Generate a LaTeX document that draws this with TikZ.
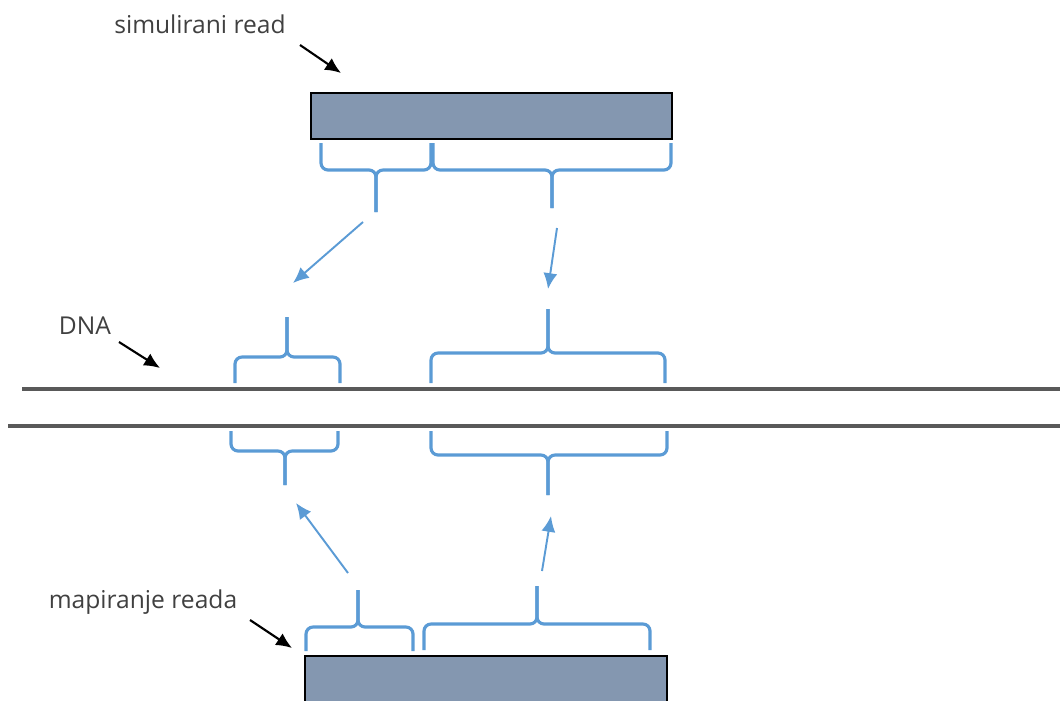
\documentclass[tikz,border=0pt]{standalone}
\usepackage{fontspec}
\setmainfont{Open Sans}
\usetikzlibrary{arrows.meta}
\definecolor{readfill}{HTML}{8497B0}
\definecolor{bracec}{HTML}{5B9BD5}
\definecolor{dnac}{HTML}{595959}
\definecolor{txt}{HTML}{404040}
\newcommand\mybrace[6]{% x1 x2 xm ya yb yc
  \draw[brc] (#1,#4) |- (#3,#5) -- (#3,#6);
  \draw[brc] (#2,#4) |- (#3,#5) -- (#3,#6);}
\tikzset{
  brc/.style={draw=bracec, line width=1.8pt, rounded corners=4pt},
  bluearrow/.style={draw=bracec, line width=1.1pt, -{Latex[length=9pt,width=8pt]}},
  blackarrow/.style={draw=black, line width=1.2pt, -{Latex[length=9pt,width=8pt]}},
  readbox/.style={draw=black, fill=readfill, line width=1pt},
  lbl/.style={font=\fontsize{14}{16}\selectfont, text=txt, inner sep=0pt},
  dnaline/.style={draw=dnac, line width=2.8pt}
}
\begin{document}
\begin{tikzpicture}[x=0.02cm,y=-0.02cm]
\useasboundingbox (0,0) rectangle (1060,700);
% reads
\path[readbox] (311,93) rectangle (672,139);
\node (topread) at (491,116) {};
\path[readbox] (305,656) rectangle (667,710);
\node (botread) at (486,680) {};
% labels
\node[lbl] (simlbl) at (200,24) {simulirani read};
\node[lbl] (dnalbl) at (85,326) {DNA};
\node[lbl] (maplbl) at (143,602) {mapiranje reada};
\coordinate (s1) at (300,45); \coordinate (s2) at (341,73);
\coordinate (d1) at (119,342); \coordinate (d2) at (160,368);
\coordinate (m1) at (250,620); \coordinate (m2) at (292,648);
\draw[blackarrow] (s1) -- (s2);
\draw[blackarrow] (d1) -- (d2);
\draw[blackarrow] (m1) -- (m2);
% DNA
\draw[dnaline] (22,389) -- (1060,389);
\draw[dnaline] (8,426) -- (1060,426);
% braces under top read
\mybrace{321}{431}{376}{143}{170}{212}
\mybrace{433}{671}{552}{143}{170}{208}
% braces above DNA
\mybrace{235}{340}{287}{383}{357}{317}
\mybrace{431}{665}{548}{383}{353}{309}
% braces below DNA
\mybrace{231}{338}{285}{431}{451}{485}
\mybrace{431}{667}{548}{431}{455}{495}
% braces above bottom read
\mybrace{306}{413}{358}{651}{627}{590}
\mybrace{424}{650}{537}{650}{624}{586}
% blue arrows
\coordinate (a1) at (363,222); \coordinate (a2) at (293,283);
\coordinate (b1) at (557,228); \coordinate (b2) at (548,289);
\coordinate (c1) at (348,573); \coordinate (c2) at (296,503);
\coordinate (e1) at (542,571); \coordinate (e2) at (551,516);
\draw[bluearrow] (a1) -- (a2);
\draw[bluearrow] (b1) -- (b2);
\draw[bluearrow] (c1) -- (c2);
\draw[bluearrow] (e1) -- (e2);
\end{tikzpicture}
\end{document}
